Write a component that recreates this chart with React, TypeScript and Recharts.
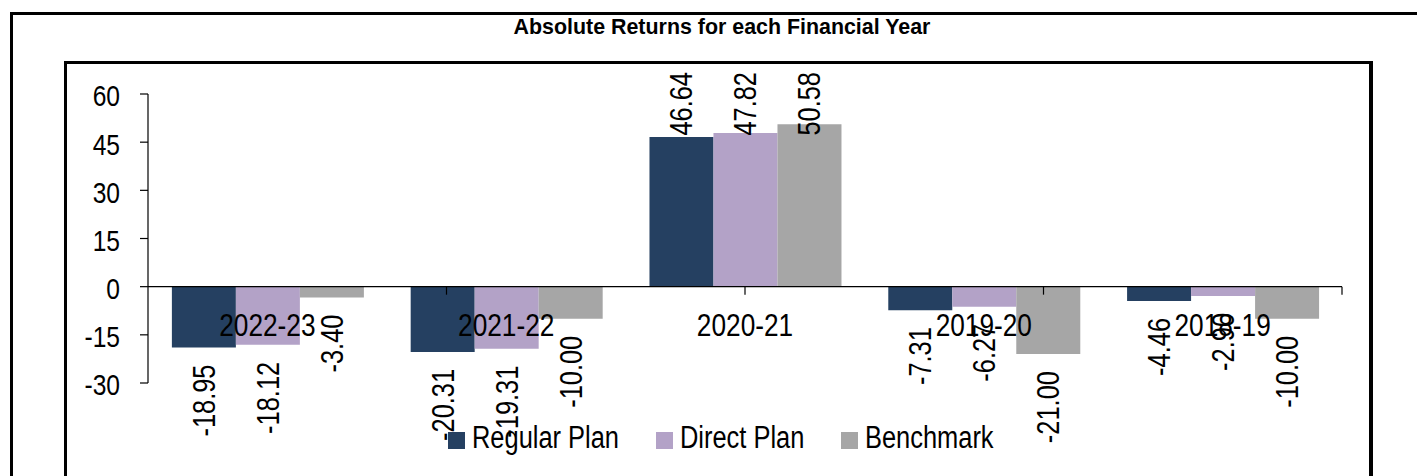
import React from "react";
import {
  BarChart,
  Bar,
  XAxis,
  YAxis,
  ReferenceLine,
  ReferenceDot,
  LabelList,
} from "recharts";

const categories = ["2022-23", "2021-22", "2020-21", "2019-20", "2018-19"];
const regularPlan = [-18.95, -20.31, 46.64, -7.31, -4.46];
const directPlan = [-18.12, -19.31, 47.82, -6.27, -2.9];
const benchmark = [-3.4, -10.0, 50.58, -21.0, -10.0];
const yTicks = [-30, -15, 0, 15, 30, 45, 60];
const boundaryTicks = [1, 2, 3, 4, 5];
const seriesNames = ["Regular Plan", "Direct Plan", "Benchmark"];
const seriesKeys = ["regular", "direct", "benchmark"];
const seriesColors = ["#254061", "#B3A2C7", "#A6A6A6"];
const title = "Absolute Returns for each Financial Year";

const data = categories.map((c, i) => ({
  category: c,
  regular: regularPlan[i],
  direct: directPlan[i],
  benchmark: benchmark[i],
}));

const FONT = '"Liberation Sans", Arial, sans-serif';
const NARROW_SCALE = 0.82;
const yMax = Math.max(...yTicks);

const measure = (text: string, font: string) => {
  const ctx = document.createElement("canvas").getContext("2d");
  if (!ctx) return text.length * 15;
  ctx.font = font;
  return ctx.measureText(text).width;
};

const NarrowText = ({ x, y, anchor, size, rotate, children }: any) => (
  <g transform={`translate(${x},${y})${rotate ? " rotate(-90)" : ""} scale(${NARROW_SCALE},1)`}>
    <text x={0} y={0} textAnchor={anchor} dominantBaseline="central" fontFamily={FONT} fontSize={size} fill="#000">
      {children}
    </text>
  </g>
);

const renderValueLabel = (props: any) => {
  const vb = props.viewBox && props.viewBox.width !== undefined ? props.viewBox : props;
  const x = Number(vb.x);
  const y = Number(vb.y);
  const w = Number(vb.width);
  const h = Number(vb.height);
  const v = Number(props.value);
  const bottom = Math.max(y, y + h);
  const cx = x + w / 2;
  let ay: number;
  if (v >= 0) {
    const ppu = Math.abs(h) / Math.abs(v || 1);
    const yTop = bottom - yMax * ppu;
    ay = yTop - 22;
  } else {
    ay = bottom + 17;
  }
  return (
    <NarrowText x={cx} y={ay} anchor="end" size={31} rotate>
      {v.toFixed(2)}
    </NarrowText>
  );
};

const YTick = (props: any) => (
  <NarrowText x={props.x} y={props.y + 2} anchor="end" size={30}>
    {props.payload.value}
  </NarrowText>
);

const LegendBlock = () => {
  const size = 31;
  let cur = 448;
  const items = seriesNames.map((n, i) => {
    const sq = cur;
    const tx = sq + 17 + 7;
    const tw = measure(n, `${size}px ${FONT}`) * NARROW_SCALE;
    cur = tx + tw + 37;
    return (
      <React.Fragment key={n}>
        <div style={{ position: "absolute", left: sq, top: 432, width: 17, height: 17, background: seriesColors[i] }} />
        <div
          style={{
            position: "absolute",
            left: tx,
            top: 422,
            fontFamily: FONT,
            fontSize: size,
            lineHeight: `${size}px`,
            whiteSpace: "nowrap",
            transform: `scaleX(${NARROW_SCALE})`,
            transformOrigin: "0 0",
            color: "#000",
          }}
        >
          {n}
        </div>
      </React.Fragment>
    );
  });
  return <>{items}</>;
};

export default function App() {
  return (
    <div style={{ position: "fixed", left: 0, top: 0, width: 1417, height: 476, overflow: "hidden", background: "#fff" }}>
      <div style={{ position: "absolute", left: 10, top: 12, width: 1500, height: 600, border: "3px solid #000", boxSizing: "border-box" }} />
      <div style={{ position: "absolute", left: 64, top: 61, width: 1309, height: 600, borderLeft: "3px solid #000", borderTop: "3px solid #000", borderRight: "4px solid #000", boxSizing: "border-box" }} />
      <div
        style={{
          position: "absolute",
          left: 722,
          top: 17,
          transform: "translateX(-50%)",
          fontFamily: FONT,
          fontWeight: "bold",
          fontSize: 21.4,
          lineHeight: 1,
          whiteSpace: "nowrap",
          color: "#000",
        }}
      >
        {title}
      </div>
      <div style={{ position: "absolute", left: 0, top: 0 }}>
        <BarChart
          width={1417}
          height={476}
          data={data}
          margin={{ top: 94, right: 75, bottom: 93, left: 88 }}
          barCategoryGap="10%"
          barGap={0}
        >
          <XAxis dataKey="category" hide />
          <XAxis xAxisId="b" type="number" domain={[0, 5]} allowDataOverflow hide />
          <YAxis
            domain={[-30, 60]}
            ticks={yTicks}
            width={60}
            interval={0}
            axisLine={{ stroke: "#000", strokeWidth: 1.2 }}
            tickLine={{ stroke: "#000", strokeWidth: 1.2 }}
            tickSize={8}
            tickMargin={20}
            tick={<YTick />}
          />
          {seriesKeys.map((k, i) => (
            <Bar key={k} dataKey={k} name={seriesNames[i]} fill={seriesColors[i]} isAnimationActive={false}>
              <LabelList dataKey={k} content={renderValueLabel} />
            </Bar>
          ))}
          <ReferenceLine y={0} stroke="#000" strokeWidth={1.2} />
          {boundaryTicks.map((b) => (
            <ReferenceDot
              key={"t" + b}
              xAxisId="b"
              x={b}
              y={0}
              r={0}
              ifOverflow="visible"
              shape={(p: any) => <line x1={p.cx} y1={p.cy} x2={p.cx} y2={p.cy + 8} stroke="#000" strokeWidth={1.2} />}
            />
          ))}
          {categories.map((c) => (
            <ReferenceDot
              key={"c" + c}
              x={c}
              y={0}
              r={0}
              ifOverflow="visible"
              shape={(p: any) => (
                <NarrowText x={p.cx} y={p.cy + 38} anchor="middle" size={32}>
                  {c}
                </NarrowText>
              )}
            />
          ))}
        </BarChart>
      </div>
      <LegendBlock />
    </div>
  );
}
